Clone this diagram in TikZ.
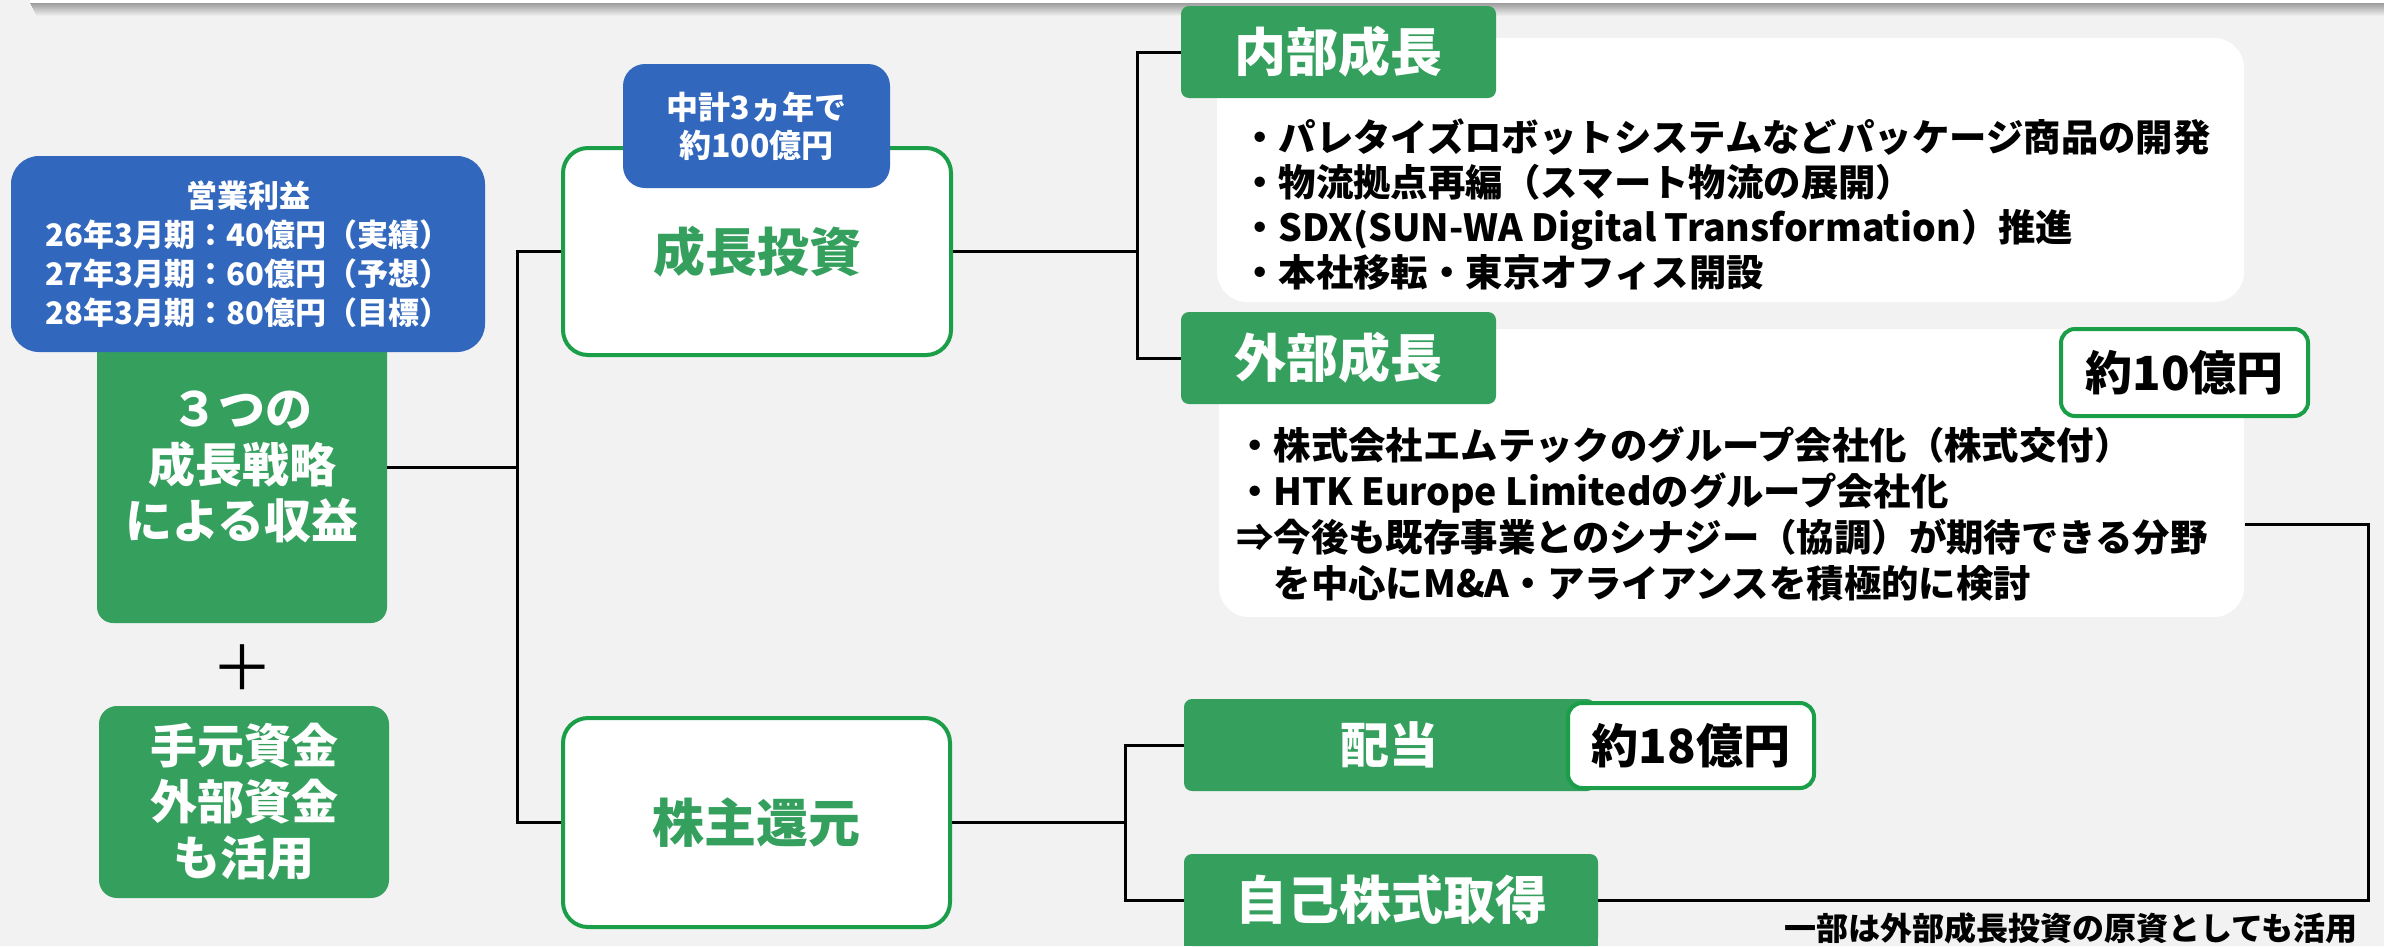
\documentclass[tikz,border=0pt]{standalone}
\usepackage{fontspec}
\setmainfont{Noto Sans CJK JP}
\definecolor{bgGray}{HTML}{F2F2F2}
\definecolor{gGreen}{HTML}{35A05E}
\definecolor{bBlue}{HTML}{3267BE}
\definecolor{lGreen}{HTML}{1A9E48}
\newcommand{\fsz}[2]{\fontsize{#1pt}{#2pt}\selectfont}
\tikzset{
  conn/.style={line width=3pt, black},
  gbox/.style={rectangle, fill=gGreen, text=white, inner sep=0pt, align=center},
  bbox/.style={rectangle, fill=bBlue, text=white, inner sep=0pt, align=center, rounded corners=28pt},
  wbox/.style={rectangle, fill=white, draw=lGreen, line width=4pt, inner sep=0pt, align=center},
  panel/.style={rectangle, fill=white, rounded corners=30pt, inner sep=0pt},
  ptext/.style={inner sep=0pt, align=left, anchor=west, text=black},
}
\begin{document}
\begin{tikzpicture}[x=1pt,y=-1pt]
\useasboundingbox (0,0) rectangle (2384,946);
\clip (0,0) rectangle (2384,946);
\fill[bgGray] (0,0) rectangle (2384,946);
% top strip with shadow
\foreach \i in {0,...,12}{
  \pgfmathsetmacro{\op}{0.35*(1-\i/13)}
  \fill[black, opacity=\op] (30+\i*0.5,3+\i) rectangle (2384,4+\i);
}
\fill[white] (30,0) rectangle (2384,3);

% left column
\node[gbox, rounded corners=16pt, minimum width=290pt, minimum height=312pt, font={\bfseries\fsz{47}{56}}] (rev) at (242,467) {３つの\\成長戦略\\による収益};
\node[bbox, minimum width=474pt, minimum height=196pt, font={\bfseries\fsz{31}{39}}] (op) at (248,254) {営業利益\\26年3月期：40億円（実績）\\27年3月期：60億円（予想）\\28年3月期：80億円（目標）};
\node[inner sep=0pt, font={\fsz{62}{62}}] (plus) at (242,668) {＋};
\node[gbox, rounded corners=18pt, minimum width=290pt, minimum height=192pt, font={\bfseries\fsz{47}{56}}] (fund) at (244,802) {手元資金\\外部資金\\も活用};

% middle column
\node[wbox, rounded corners=25pt, minimum width=388pt, minimum height=207pt, text=gGreen, font={\bfseries\fsz{52}{60}}] (gi) at (757,251.5) {成長投資};
\node[bbox, rounded corners=22pt, minimum width=267pt, minimum height=124pt, font={\bfseries\fsz{32}{38}}] (plan) at (756.5,126) {中計3ヵ年で\\約100億円};
\node[wbox, rounded corners=25pt, minimum width=387pt, minimum height=209pt, text=gGreen, font={\bfseries\fsz{52}{60}}] (sr) at (756.5,822.5) {株主還元};

% internal growth
\node[panel, minimum width=1027pt, minimum height=264pt] (panelA) at (1730.5,170) {};
\node[gbox, rounded corners=8pt, minimum width=315pt, minimum height=92pt, font={\bfseries\fsz{52}{60}}] (naibu) at (1338.5,52) {内部成長};
\node[ptext, font={\bfseries\fsz{37.4}{45}}] (txtA) at (1241,204.5) {・パレタイズロボットシステムなどパッケージ商品の開発\\・物流拠点再編（スマート物流の展開）\\・SDX(SUN-WA Digital Transformation）推進\\・本社移転・東京オフィス開設};

% external growth
\node[panel, minimum width=1025pt, minimum height=288pt] (panelB) at (1731.5,473) {};
\node[gbox, rounded corners=8pt, minimum width=315pt, minimum height=92pt, font={\bfseries\fsz{52}{60}}] (gaibu) at (1338.5,358) {外部成長};
\node[wbox, rounded corners=14pt, minimum width=247pt, minimum height=87pt, text=black, font={\bfseries\fsz{47}{56}}] (amt10) at (2184.5,372.5) {約10億円};
\node[ptext, font={\bfseries\fsz{37.4}{46}}] (txtB) at (1236,513.5) {・株式会社エムテックのグループ会社化（株式交付）\\・HTK Europe Limitedのグループ会社化\\⇒今後も既存事業とのシナジー（協調）が期待できる分野\\\hspace*{1em}を中心にM\&A・アライアンスを積極的に検討};

% shareholder return
\node[gbox, rounded corners=8pt, minimum width=411pt, minimum height=92pt, font={\bfseries\fsz{49}{56}}] (haito) at (1389.5,745) {配当};
\node[wbox, rounded corners=14pt, minimum width=246pt, minimum height=85pt, text=black, font={\bfseries\fsz{47}{56}}] (amt18) at (1691,745.5) {約18億円};
\node[gbox, rounded corners=8pt, minimum width=414pt, minimum height=92pt, font={\bfseries\fsz{52}{60}}] (jisha) at (1391,900) {自己株式取得};
\fill[gGreen] (jisha.south west) rectangle ++(20,-20);
\fill[gGreen] (jisha.south east) rectangle ++(-20,-20);
\node[anchor=east, inner sep=0pt, font={\bfseries\fsz{32}{32}}] (note) at (2358,928) {一部は外部成長投資の原資としても活用};

% connectors
\coordinate (s1) at (517,467);
\draw[conn] (rev.east) -- (s1);
\draw[conn] (gi.west) -| (s1) |- (sr.west);
\coordinate (s2) at (1137,251.5);
\draw[conn] (gi.east) -- (s2);
\draw[conn] (naibu.west) -| (s2) |- (gaibu.west);
\coordinate (s3) at (1125,822.5);
\draw[conn] (sr.east) -- (s3);
\draw[conn] (haito.west) -| (s3) |- (jisha.west);
\coordinate (ret) at (2368,524);
\coordinate (retend) at (2245,524);
\draw[conn] (jisha.east) -| (ret) -- (retend);
\end{tikzpicture}
\end{document}
